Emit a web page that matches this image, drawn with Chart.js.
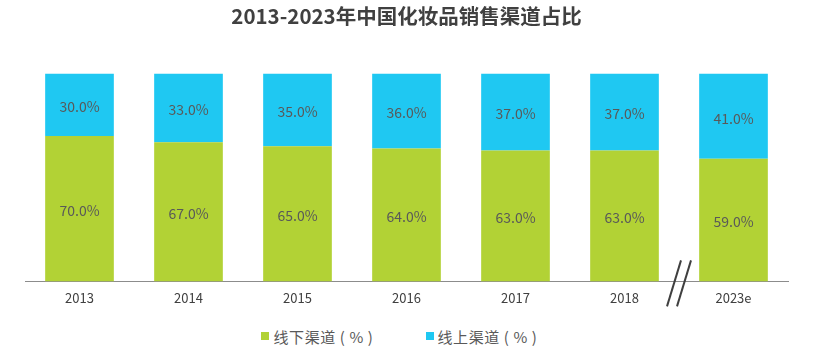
<!DOCTYPE html>
<html>
<head>
<meta charset="utf-8">
<script src="https://cdn.jsdelivr.net/npm/chart.js@4"></script>
<style>
    html, body { margin: 0; padding: 0; background: #fff; }
    #wrap { width: 819px; height: 320px; }
    #legend {
        width: 819px; height: 32px;
        display: flex; justify-content: center; align-items: center;
        font: 15px "Noto Sans CJK SC", sans-serif; color: #595959;
        box-sizing: border-box; padding-right: 20px;
    }
    #legend span.item { display: inline-flex; align-items: center; margin: 0 26px; letter-spacing: 0.6px; }
    #legend i { display: inline-block; width: 8px; height: 8px; margin-right: 4px; }
</style>
</head>
<body>
<div id="wrap"><canvas id="myChart"></canvas></div>
<div id="legend"></div>
<script>
const years = ['2013', '2014', '2015', '2016', '2017', '2018', '2023e'];
const offline = [70, 67, 65, 64, 63, 63, 59];
const online = [30, 33, 35, 36, 37, 37, 41];

const FONT = '"Noto Sans CJK SC", "Open Sans", sans-serif';

// value text in the middle of every segment
const segmentLabels = {
    id: 'segmentLabels',
    afterDatasetsDraw( chart ) {
        const ctx = chart.ctx;
        ctx.save();
        ctx.font = '14px ' + FONT;
        ctx.fillStyle = '#595959';
        ctx.textAlign = 'center';
        ctx.textBaseline = 'middle';
        chart.data.datasets.forEach( ( ds, i ) => {
            chart.getDatasetMeta( i ).data.forEach( ( bar, j ) => {
                const p = bar.getProps( [ 'x', 'y', 'base' ], true );
                ctx.fillText( ds.data[j].toFixed(1) + '%', p.x, ( p.y + p.base ) / 2 + 2 );
            });
        });
        ctx.restore();
    }
};

// the "//" break mark between 2018 and 2023e
const axisBreak = {
    id: 'axisBreak',
    afterDraw( chart ) {
        const x = chart.scales.x;
        const cx = ( x.getPixelForValue( 5 ) + x.getPixelForValue( 6 ) ) / 2;
        const cy = x.top;
        const ctx = chart.ctx;
        ctx.save();
        ctx.strokeStyle = '#404040';
        ctx.lineWidth = 2;
        [ -5, 5 ].forEach( dx => {
            ctx.beginPath();
            ctx.moveTo( cx + dx - 7, cy + 25 );
            ctx.lineTo( cx + dx + 7, cy - 21 );
            ctx.stroke();
        });
        ctx.restore();
    }
};

const chart = new Chart( document.getElementById('myChart'), {
    type: 'bar',
    data: {
        labels: years,
        datasets: [
            {
                label: '线下渠道 ( % )',
                data: offline,
                backgroundColor: '#b2d235',
                barPercentage: 0.63,
                categoryPercentage: 1
            },
            {
                label: '线上渠道 ( % )',
                data: online,
                backgroundColor: '#1fc8f2',
                barPercentage: 0.63,
                categoryPercentage: 1
            }
        ]
    },
    options: {
        responsive: true,
        maintainAspectRatio: false,
        animation: false,
        layout: { padding: { left: 25, right: 31, top: 0, bottom: 5 } },
        scales: {
            x: {
                stacked: true,
                grid: { display: false, drawTicks: false },
                border: { color: '#8c8c8c', width: 1 },
                ticks: { color: '#404040', font: { size: 13, family: FONT }, padding: 9 }
            },
            y: {
                stacked: true,
                display: false,
                min: 0,
                max: 100
            }
        },
        plugins: {
            title: {
                display: true,
                text: '2013-2023年中国化妆品销售渠道占比',
                color: '#404040',
                font: { size: 20.5, weight: 'bold', family: FONT },
                padding: { top: 4, bottom: 45 }
            },
            legend: { display: false },
            tooltip: { enabled: false }
        }
    },
    plugins: [ segmentLabels, axisBreak ]
});

// legend below the canvas, built from the datasets
document.getElementById('legend').innerHTML = chart.data.datasets.map( ds =>
    '<span class="item"><i style="background:' + ds.backgroundColor + '"></i>' + ds.label + '</span>'
).join('');
</script>
</body>
</html>
